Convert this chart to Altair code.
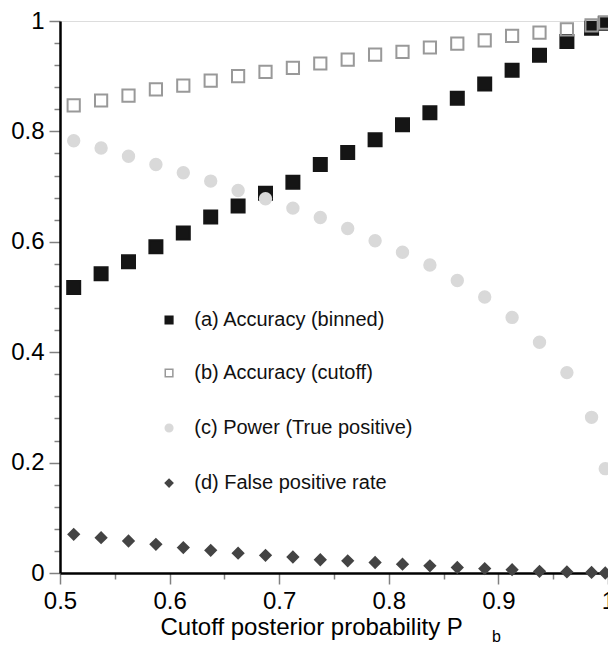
import altair as alt
import pandas as pd

# ---- data ----
x_vals = [0.5125, 0.5375, 0.5625, 0.5875, 0.6125, 0.6375, 0.6625, 0.6875, 0.7125, 0.7375,
          0.7625, 0.7875, 0.8125, 0.8375, 0.8625, 0.8875, 0.9125, 0.9375, 0.9625, 0.985, 0.9975]
acc_binned = [0.517, 0.542, 0.564, 0.591, 0.616, 0.645, 0.665, 0.688, 0.708, 0.740,
              0.762, 0.785, 0.812, 0.834, 0.860, 0.886, 0.911, 0.938, 0.963, 0.987, 0.996]
acc_cutoff = [0.847, 0.856, 0.865, 0.876, 0.883, 0.892, 0.900, 0.908, 0.915, 0.923,
              0.930, 0.939, 0.944, 0.952, 0.959, 0.965, 0.973, 0.979, 0.985, 0.992, 0.997]
power = [0.783, 0.770, 0.755, 0.740, 0.725, 0.710, 0.693, 0.678, 0.661, 0.644,
         0.624, 0.602, 0.581, 0.558, 0.530, 0.500, 0.463, 0.418, 0.363, 0.282, 0.189]
fpr = [0.070, 0.064, 0.058, 0.052, 0.046, 0.041, 0.036, 0.032, 0.029, 0.024,
       0.022, 0.019, 0.016, 0.013, 0.010, 0.008, 0.006, 0.003, 0.002, 0.001, 0.000]

series_names = ["(a) Accuracy (binned)", "(b) Accuracy (cutoff)",
                "(c) Power (True positive)", "(d) False positive rate"]
series_values = [acc_binned, acc_cutoff, power, fpr]
shapes = ["square", "square", "circle", "diamond"]
fills = ["#151515", "transparent", "#d9d9d9", "#444444"]
strokes = ["#151515", "#999999", "#d9d9d9", "#444444"]
sizes = [169, 110, 144, 121]

# tick positions (major ticks get labels, the rest are minor ticks)
x_ticks = [0.5, 0.55, 0.6, 0.65, 0.7, 0.75, 0.8, 0.85, 0.9, 0.95, 1.0]
y_ticks = [0, 0.04, 0.08, 0.12, 0.16, 0.2, 0.24, 0.28, 0.32, 0.36, 0.4, 0.44, 0.48,
           0.52, 0.56, 0.6, 0.64, 0.68, 0.72, 0.76, 0.8, 0.84, 0.88, 0.92, 0.96, 1]

# legend layout (in the chart's data units, inside the plot)
legend_symbol_x = 0.5995
legend_text_x = 0.6225
legend_rows_y = [0.4583, 0.3623, 0.2627, 0.1630]

rows = []
for name, vals in zip(series_names, series_values):
    for xv, yv in zip(x_vals, vals):
        rows.append({"x": xv, "y": yv, "series": name, "marker": name})
df = pd.DataFrame(rows)

legend_df = pd.DataFrame({
    "series": series_names,
    "sx": [legend_symbol_x] * 4,
    "tx": [legend_text_x] * 4,
    "y": legend_rows_y,
})

FONT = "Liberation Sans"

x_major_test = "abs(datum.value * 10 - round(datum.value * 10)) < 0.001"
y_major_test = "abs(datum.value * 5 - round(datum.value * 5)) < 0.001"

xscale = alt.Scale(domain=[0.5, 1.0], nice=False, zero=False)
yscale = alt.Scale(domain=[0, 1], nice=False)

x_axis = alt.Axis(
    orient="bottom", values=x_ticks, format="~g",
    labelExpr=f"{x_major_test} ? datum.label : ''",
    tickSize={"condition": {"test": x_major_test, "value": 11}, "value": 6},
    tickWidth=1.5, tickColor="#808080", domainColor="black", domainWidth=2.5,
    grid=False, labelFont=FONT, labelFontSize=24, labelColor="black",
    labelPadding=5, labelFlush=False, labelOverlap=False,
    title="Cutoff posterior probability P", titleFont=FONT, titleFontSize=24,
    titleFontWeight="normal", titleColor="black", titleAlign="left",
    titleAnchor="start", titleX=100, titleY=61, titleBaseline="alphabetic")
y_axis = alt.Axis(
    orient="left", values=y_ticks, format="~g",
    labelExpr=f"{y_major_test} ? datum.label : ''",
    tickSize={"condition": {"test": y_major_test, "value": 11}, "value": 6},
    tickWidth=1.5, tickColor="#808080", domainColor="black", domainWidth=2.5,
    grid=False, labelFont=FONT, labelFontSize=24, labelColor="black",
    labelPadding=5, labelFlush=False, labelOverlap=False, title=None)

shape_enc = alt.Shape("series:N", scale=alt.Scale(domain=series_names, range=shapes),
                      legend=None)
fill_enc = alt.Fill("series:N", scale=alt.Scale(domain=series_names, range=fills),
                    legend=None)
stroke_enc = alt.Stroke("series:N", scale=alt.Scale(domain=series_names, range=strokes),
                        legend=None)

points = alt.Chart(df).mark_point(opacity=1, strokeWidth=2).encode(
    x=alt.X("x:Q", scale=xscale, axis=x_axis),
    y=alt.Y("y:Q", scale=yscale, axis=y_axis),
    shape=shape_enc,
    fill=fill_enc,
    stroke=stroke_enc,
    size=alt.Size("marker:N", scale=alt.Scale(domain=series_names, range=sizes),
                  legend=None),
)

legend_symbols = alt.Chart(legend_df).mark_point(opacity=1, strokeWidth=1.5, size=58).encode(
    x=alt.X("sx:Q", scale=xscale, axis=x_axis),
    y=alt.Y("y:Q", scale=yscale, axis=y_axis),
    shape=shape_enc,
    fill=fill_enc,
    stroke=stroke_enc,
)

legend_labels = alt.Chart(legend_df).mark_text(
    align="left", baseline="middle", font=FONT, fontSize=20, color="#111111"
).encode(
    x=alt.X("tx:Q", scale=xscale, axis=x_axis),
    y=alt.Y("y:Q", scale=yscale, axis=y_axis),
    text="series:N",
)

chart = alt.layer(points, legend_symbols, legend_labels).properties(
    width=548, height=552,
    autosize=alt.AutoSizeParams(type="none"),
    padding={"left": 52, "top": 13, "right": 0, "bottom": 75},
    title=alt.TitleParams(text="b", orient="bottom", anchor="start", frame="group",
                          dx=432, offset=-10,
                          font=FONT, fontSize=16, fontWeight="normal", color="black"),
).configure_view(
    stroke="black", strokeWidth=2
).configure(background="white")

chart.save("out.html", embed_options={"renderer": "svg", "actions": False})
